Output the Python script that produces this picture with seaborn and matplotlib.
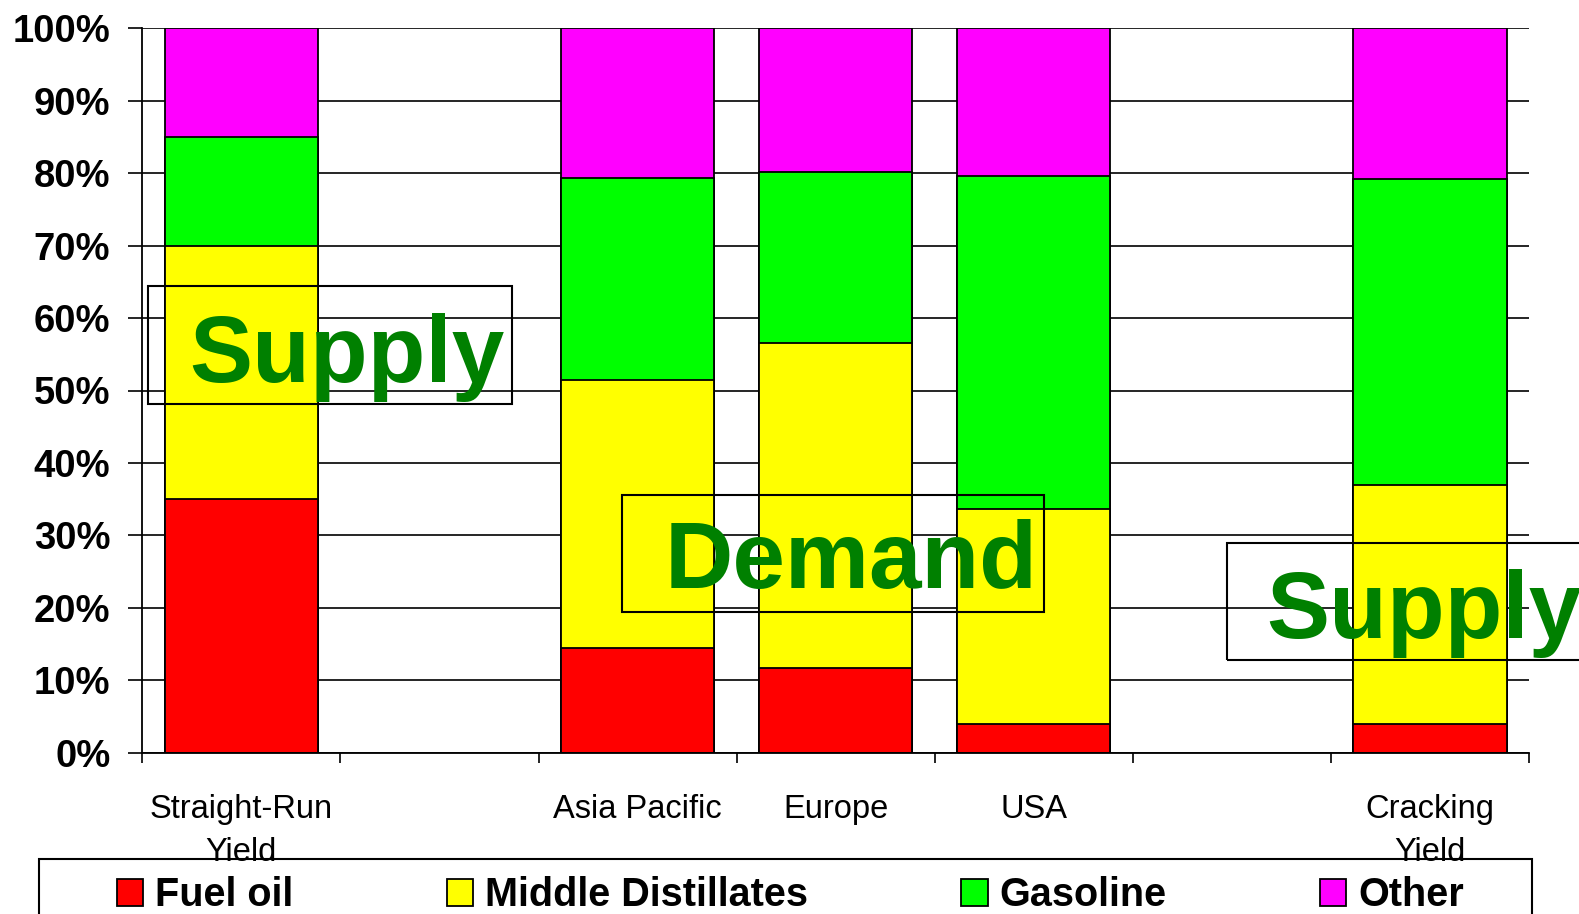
import numpy as np
import pandas as pd
import matplotlib
matplotlib.use("Agg")
import matplotlib.pyplot as plt
from matplotlib.patches import Patch, Rectangle
from matplotlib.ticker import FixedLocator, PercentFormatter
import seaborn as sns

# Product slate (% of barrel) for refinery yields and regional demand
categories = ["Straight-Run\nYield", "Asia Pacific", "Europe", "USA", "Cracking\nYield"]
fuel_oil = [35.0, 14.4, 11.7, 4.0, 4.0]
middle_distillates = [35.0, 37.1, 44.8, 29.6, 33.0]
gasoline = [15.0, 27.9, 23.6, 46.0, 42.2]
other = [15.0, 20.6, 19.9, 20.4, 20.8]

series_names = ["Fuel oil", "Middle Distillates", "Gasoline", "Other"]
series_colors = ["#FF0000", "#FFFF00", "#00FF00", "#FF00FF"]
y_ticks = list(range(0, 101, 10))

# Seven slots on the axis: two empty spacers separate supply from demand
slot_order = [categories[0], "gap_a", categories[1], categories[2], categories[3], "gap_b", categories[4]]
slot_labels = [c if not c.startswith("gap") else "" for c in slot_order]

df = pd.DataFrame({
    "region": categories,
    "Fuel oil": fuel_oil,
    "Middle Distillates": middle_distillates,
    "Gasoline": gasoline,
    "Other": other,
})
# cumulative tops so each layer can be drawn over the one above it
cum = df[series_names].cumsum(axis=1)
cum["region"] = df["region"]

sns.set_theme(style="white")
plt.rcParams["font.family"] = ["Liberation Sans", "DejaVu Sans"]
plt.rcParams.update({"text.color": "black", "xtick.color": "black",
                     "ytick.color": "black", "axes.labelcolor": "black"})

fig = plt.figure(figsize=(15.79, 9.14), dpi=100)
ax = fig.add_axes([142.3 / 1579, 1 - 752.7 / 914, (1529 - 142.3) / 1579, (752.7 - 28.3) / 914])

for name, color in reversed(list(zip(series_names, series_colors))):
    sns.barplot(data=cum, x="region", y=name, order=slot_order, color=color,
                saturation=1, width=0.774, edgecolor="black", linewidth=1.3,
                errorbar=None, ax=ax, zorder=2)

ax.set_xlim(-0.5, len(slot_order) - 0.5)
ax.set_ylim(0, 100)
ax.set_xlabel("")
ax.set_ylabel("")

# y axis: bold percentages with black horizontal gridlines
ax.yaxis.set_major_locator(FixedLocator(y_ticks))
ax.yaxis.set_major_formatter(PercentFormatter(decimals=0))
ax.yaxis.grid(True, color="black", linewidth=1.2, zorder=0)
ax.xaxis.grid(False)
ax.set_axisbelow(True)
ax.tick_params(axis="y", which="major", direction="out", length=10, width=1.2,
               color="black", pad=13, labelsize=27.5, labelcolor="black", left=True)
for lbl in ax.get_yticklabels():
    lbl.set_fontweight("bold")

# x axis: tick marks between slots, labels centred in the slots
ax.xaxis.set_major_locator(FixedLocator(np.arange(-0.5, len(slot_order), 1.0)))
ax.set_xticklabels([""] * (len(slot_order) + 1))
ax.xaxis.set_minor_locator(FixedLocator(np.arange(len(slot_order))))
ax.set_xticklabels(slot_labels, minor=True, linespacing=1.5)
ax.tick_params(axis="x", which="major", direction="out", length=7, width=1.2,
               color="black", bottom=True)
ax.tick_params(axis="x", which="minor", length=0, pad=30, labelsize=23.5, labelcolor="black")

for side in ["top", "right"]:
    ax.spines[side].set_visible(False)
for side in ["left", "bottom"]:
    ax.spines[side].set_color("black")
    ax.spines[side].set_linewidth(1.3)

# Callout boxes marking supply and demand
callouts = [
    ("Supply", (-0.470, 48.2), 1.838, 16.2, (-0.263, 51.2)),
    ("Demand", (1.920, 19.4), 2.133, 16.2, (2.139, 22.7)),
    ("Supply", (4.976, 12.8), 2.4, 16.2, (5.176, 15.8)),
]
for word, (bx, by), bw, bh, (tx, ty) in callouts:
    ax.add_patch(Rectangle((bx, by), bw, bh, fill=False, edgecolor="black",
                           linewidth=1.5, zorder=5, clip_on=False))
    ax.text(tx, ty, word, fontsize=68, fontweight="bold", color="#008000",
            ha="left", va="baseline", zorder=6, clip_on=False)

# Legend along the bottom, inside an open-bottomed frame
handles = [Patch(facecolor=c, edgecolor="black", linewidth=1.3) for c in series_colors]
leg = fig.legend(handles, series_names, loc="center left",
                 bbox_to_anchor=(117 / 1579, 1 - 895 / 914), ncol=4, frameon=False,
                 prop={"weight": "bold", "size": 28.5}, handlelength=0.66,
                 handleheight=0.68, handletextpad=0.3, columnspacing=3.88,
                 borderpad=0, borderaxespad=0, labelcolor="black")
fig.add_artist(Rectangle((39 / 1579, -0.05), (1532 - 39) / 1579, 0.05 + (1 - 858.7 / 914),
                         transform=fig.transFigure, fill=False, edgecolor="black",
                         linewidth=1.5))

fig.savefig("out.png", dpi=100)
